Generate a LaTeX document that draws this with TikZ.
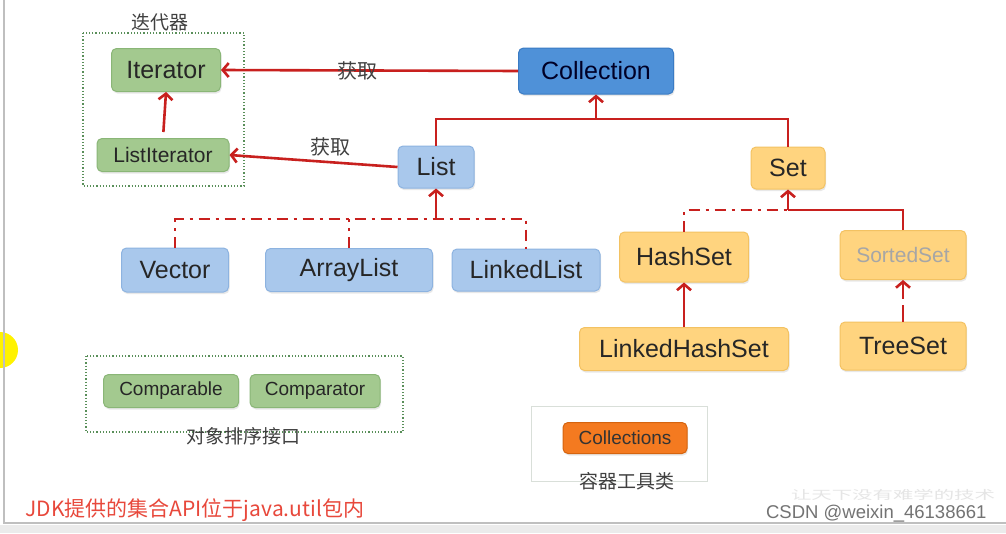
\documentclass[tikz,border=0pt]{standalone}
\usepackage{fontspec}
\setmainfont{Liberation Sans}
\newfontfamily\cjk{Noto Sans CJK SC}
\usetikzlibrary{arrows.meta,shadows}
\definecolor{relred}{HTML}{C8201E}
\definecolor{grnfill}{HTML}{A3C98F}
\definecolor{grnline}{HTML}{8AB677}
\definecolor{bluefill}{HTML}{4F91D8}
\definecolor{blueline}{HTML}{3A7BC4}
\definecolor{lbluefill}{HTML}{A9C8EC}
\definecolor{lblueline}{HTML}{8DB3E0}
\definecolor{yelfill}{HTML}{FFD47F}
\definecolor{yelline}{HTML}{F3C262}
\definecolor{orgfill}{HTML}{F47A20}
\definecolor{orgline}{HTML}{D5640F}
\definecolor{jdkred}{HTML}{E8483B}
\begin{document}
\begin{tikzpicture}[x=1pt,y=-1pt,
    box/.style={draw,rounded corners=5pt,line width=1pt,inner sep=0pt,
      drop shadow={shadow xshift=1pt,shadow yshift=-2pt,opacity=.18},
      font=\fontsize{25}{25}\selectfont},
    green/.style={box,fill=grnfill,draw=grnline,text=black!85},
    blue/.style={box,fill=bluefill,draw=blueline,text=black!85!blue},
    lblue/.style={box,fill=lbluefill,draw=lblueline,text=black!85},
    yel/.style={box,fill=yelfill,draw=yelline,text=black!85},
    redline/.style={draw=relred,line width=2.6pt},
    rel/.style={redline,-{Straight Barb[length=6pt,width=14pt]}},
    dashdot/.style={redline,dash pattern=on 11pt off 6pt on 3pt off 6pt},
    group/.style={draw=black!30!green!30!gray,line width=1.2pt,dotted},
    cjklabel/.style={font=\cjk\fontsize{19}{19}\selectfont,text=black!75}]
  \useasboundingbox (0,0) rectangle (1006,533);
  \clip (0,0) rectangle (1006,533);
  \fill[white] (0,0) rectangle (1006,533);
  \fill[yellow] (0,350) circle (18);
  \draw[black!25,line width=2pt] (4,0) -- (4,523) -- (1006,523);
  \fill[black!8] (0,525) rectangle (1006,533);
  %% Groups
  \draw[group] (83,33) rectangle (244,186);
  \node[cjklabel] (itlabel) at (160,22) {迭代器};
  \draw[group] (86,356) rectangle (403,432);
  \node[cjklabel] (cmplabel) at (243,436) {对象排序接口};
  \draw[green!15!black!15,line width=1pt] (531,406) rectangle (707,481);
  \node[cjklabel] (toollabel) at (627,481) {容器工具类};
  %% Boxes
  \node[green,minimum width=109,minimum height=43] (Iterator) at (166,70) {Iterator};
  \node[green,minimum width=132,minimum height=33,font=\fontsize{21}{21}\selectfont] (ListIterator) at (163,155) {ListIterator};
  \node[blue,minimum width=155,minimum height=46] (Collection) at (596,71) {Collection};
  \node[lblue,minimum width=76,minimum height=42] (List) at (436,167) {List};
  \node[yel,minimum width=74,minimum height=42] (Set) at (788,168) {Set};
  \node[lblue,minimum width=107,minimum height=44] (Vector) at (175,270) {Vector};
  \node[lblue,minimum width=167,minimum height=43] (ArrayList) at (349,270) {ArrayList};
  \node[lblue,minimum width=148,minimum height=42] (LinkedList) at (526,270) {LinkedList};
  \node[yel,minimum width=129,minimum height=50] (HashSet) at (684,257) {HashSet};
  \node[yel,minimum width=126,minimum height=49,text=black!35,font=\fontsize{21}{21}\selectfont] (SortedSet) at (903,255) {SortedSet};
  \node[yel,minimum width=209,minimum height=43] (LinkedHashSet) at (684,349) {LinkedHashSet};
  \node[yel,minimum width=126,minimum height=48] (TreeSet) at (903,346) {TreeSet};
  \node[green,minimum width=135,minimum height=33,font=\fontsize{19}{19}\selectfont] (Comparable) at (171,391) {Comparable};
  \node[green,minimum width=130,minimum height=33,font=\fontsize{19}{19}\selectfont] (Comparator) at (315,391) {Comparator};
  \node[box,fill=orgfill,draw=orgline,text=black!80,minimum width=124,minimum height=31,font=\fontsize{19}{19}\selectfont] (Collections) at (625,438) {Collections};
  %% Junctions
  \coordinate (cj) at (596,119);
  \coordinate (lj) at (436,219);
  \coordinate (sj) at (788,210);
  %% Relations
  \draw[rel] (Collection.west) -- (Iterator.east) node[cjklabel,pos=0.54,font=\cjk\fontsize{20}{20}\selectfont] (get1) {获取};
  \draw[rel] (List.west) -- (ListIterator.east) node[cjklabel,pos=0.4,above=1pt,font=\cjk\fontsize{20}{20}\selectfont] (get2) {获取};
  \draw[rel,shorten <=6pt] (ListIterator.north) -- (Iterator.south);
  \draw[redline] (List.north) |- (cj) -| (Set.north);
  \draw[rel] (cj) -- (Collection.south);
  \draw[dashdot] (Vector.north) |- (LinkedList.north |- lj) -- (LinkedList.north);
  \draw[dashdot] (ArrayList.north) -- (ArrayList.north |- lj);
  \draw[rel] (lj) -- (List.south);
  \draw[dashdot] (HashSet.north) |- (sj);
  \draw[redline] (SortedSet.north) |- (sj);
  \draw[rel] (sj) -- (Set.south);
  \draw[rel] (LinkedHashSet.north) -- (HashSet.south);
  \draw[rel,dash pattern=on 17pt off 6pt] (TreeSet.north) -- (SortedSet.south);
  %% Footer
  \node[anchor=west,font=\cjk\fontsize{21}{21}\selectfont,text=jdkred] (jdk) at (22,510) {JDK提供的集合API位于java.util包内};
  \node[anchor=west,font=\cjk\fontsize{12}{12}\selectfont,text=black!10,xscale=1.7,inner ysep=1pt] (mark) at (785,495) {让天下没有难学的技术};
  \node[anchor=east,font=\fontsize{18.5}{18.5}\selectfont,text=black!55] (csdn) at (990,514) {CSDN @weixin\_46138661};
\end{tikzpicture}
\end{document}
